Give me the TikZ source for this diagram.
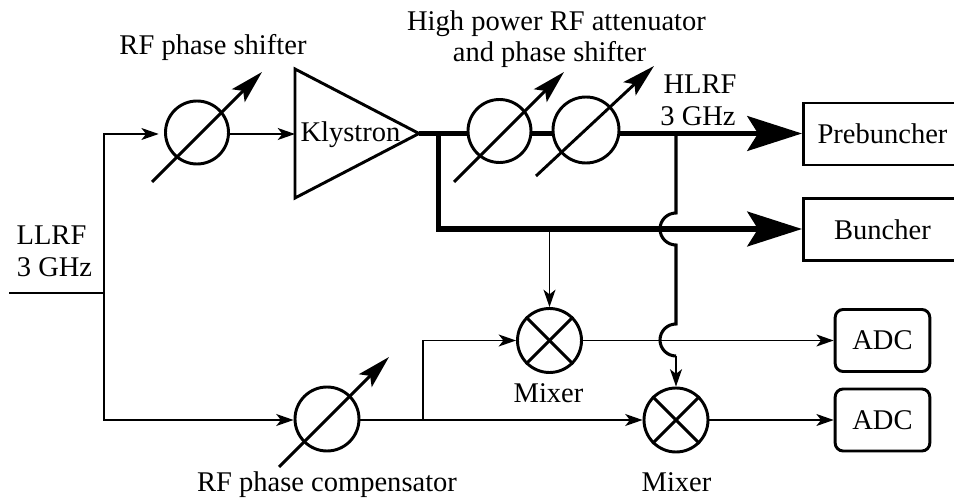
\documentclass[tikz,border=0pt]{standalone}
\usepackage{fontspec}
\setmainfont{Liberation Serif}
\usetikzlibrary{arrows.meta,shapes.geometric,calc}
\tikzset{
  x=0.75pt,y=-0.75pt,
  lab/.style={inner sep=0pt,anchor=base,font=\fontsize{21.4pt}{25pt}\selectfont},
  disc/.style={circle,draw,line width=2.2pt,inner sep=0pt,minimum size=#1*0.75pt},
  thin wire/.style={line width=1.1pt},
  thin arrow/.style={thin wire,-{Stealth[length=13pt,width=9pt,inset=3.5pt]}},
  thick wire/.style={line width=4.2pt},
  big arrow/.style={thick wire,-{Stealth[length=41pt,width=26pt,inset=8pt]}},
  tune/.style={line width=2.2pt,-{Stealth[length=25pt,width=13.5pt,inset=5pt]}},
  cross/.style={line width=2.2pt},
  bump/.style={line width=2.3pt},
  boxn/.style={draw,line width=2.2pt,inner sep=0pt,minimum width=118.5pt,minimum height=46.5pt,font=\fontsize{21.4pt}{25pt}\selectfont},
  adcn/.style={draw,line width=2.2pt,rounded corners=6pt,inner sep=0pt,minimum width=71pt,minimum height=46.5pt,font=\fontsize{21.4pt}{25pt}\selectfont},
}
\begin{document}
\begin{tikzpicture}
\useasboundingbox (0,0) rectangle (954,502);
% phase shifters
\node[disc=63] (ps) at (197,132.5) {};
\node[disc=63] (att) at (499.5,131) {};
\node[disc=66] (pha) at (586,130) {};
\node[disc=64] (comp) at (327,419) {};
\node[disc=64] (mx1) at (549.5,340.5) {};
\node[disc=64] (mx2) at (676,420) {};
% klystron
\coordinate (k1) at (295,69);
\coordinate (k2) at (295,198);
\coordinate (kout) at (419,133.5);
\coordinate (kin) at (295,134);
\draw[line width=2.2pt,line join=miter] (k1) -- (kout) -- (k2) -- cycle;
\node[lab] (kly) at (350.5,142) {Klystron};
% boxes (their right sides run past the edge of the picture)
\begin{scope}
\clip (0,0) rectangle (954,502);
\node[boxn] (pre) at (882.5,134) {Prebuncher};
\node[boxn] (bun) at (882.5,229.5) {Buncher};
\end{scope}
\node[adcn] (adc1) at (882.5,340.5) {ADC};
\node[adcn] (adc2) at (882.5,420) {ADC};
% junctions
\coordinate (in) at (9,293);
\coordinate (j0) at (104,293);
\coordinate (j1) at (104,134);
\coordinate (j2) at (104,420);
\coordinate (j3) at (423,420);
\coordinate (j4) at (423,340.5);
\coordinate (t1) at (438.5,133.5);
\coordinate (t2) at (438.5,229);
\coordinate (t3) at (549.5,229);
\coordinate (h0) at (676,133.5);
\coordinate (h1) at (676,213);
\coordinate (h2) at (676,245);
\coordinate (h3) at (676,324);
\coordinate (h4) at (676,356);
% thin wiring
\draw[thin wire] (in) -- (j0);
\draw[thin arrow,shorten >=4pt] (j0) -- (j1) -- (j1 -| ps.west);
\draw[thin arrow] (j1 -| ps.east) -- (kin);
\draw[thin arrow] (j0) -- (j2) -- (j2 -| comp.west);
\draw[thin wire] (j2 -| comp.east) -- (j3);
\draw[thin arrow] (j3) -- (mx2.west);
\draw[thin arrow] (j3) -- (j4) -- (mx1.west);
\draw[thin arrow] (t3) -- (mx1.north);
\draw[thin arrow] (mx1.east) -- (adc1.west);
\draw[thin arrow] (mx2.east) -- (adc2.west);
% thick wiring
\draw[thick wire] (kout) -- (kout -| att.west);
\draw[thick wire] (kout -| att.east) -- (kout -| pha.west);
\draw[big arrow] (kout -| pha.east) -- (kout -| pre.west);
\draw[thick wire,line join=miter] (t1) -- (t2) -- (t3);
\draw[big arrow] (t3) -- (t2 -| bun.west);
% sampling line with hops
\draw[bump] (h0) -- (h1) arc[start angle=90,end angle=270,radius=16*0.75pt] -- (h3) arc[start angle=90,end angle=270,radius=16*0.75pt];
\draw[thin arrow] (h4) -- (mx2.north);
% tuning arrows
\coordinate (a1s) at (152,182); \coordinate (a1e) at (262,72);
\coordinate (a2s) at (454,182); \coordinate (a2e) at (564,72);
\coordinate (a3s) at (536,176); \coordinate (a3e) at (654,66);
\coordinate (a4s) at (279,467); \coordinate (a4e) at (389,357);
\draw[tune] (a1s) -- (a1e);
\draw[tune] (a2s) -- (a2e);
\draw[tune] (a3s) -- (a3e);
\draw[tune] (a4s) -- (a4e);
% mixer crosses
\draw[cross] (mx1.45) -- (mx1.225);
\draw[cross] (mx1.135) -- (mx1.315);
\draw[cross] (mx2.45) -- (mx2.225);
\draw[cross] (mx2.135) -- (mx2.315);
% labels
\node[lab] (l1) at (213,55) {RF phase shifter};
\node[lab] (l2) at (556.5,31) {High power RF attenuator};
\node[lab] (l3) at (549.5,62) {and phase shifter};
\node[lab] (l4) at (700,94) {HLRF};
\node[lab] (l5) at (698,126) {3 GHz};
\node[lab] (l6) at (51.5,245) {LLRF};
\node[lab] (l7) at (54.5,277) {3 GHz};
\node[lab] (l8) at (548.5,403) {Mixer};
\node[lab] (l9) at (676.5,491) {Mixer};
\node[lab] (l10) at (327,491) {RF phase compensator};
\end{tikzpicture}
\end{document}
